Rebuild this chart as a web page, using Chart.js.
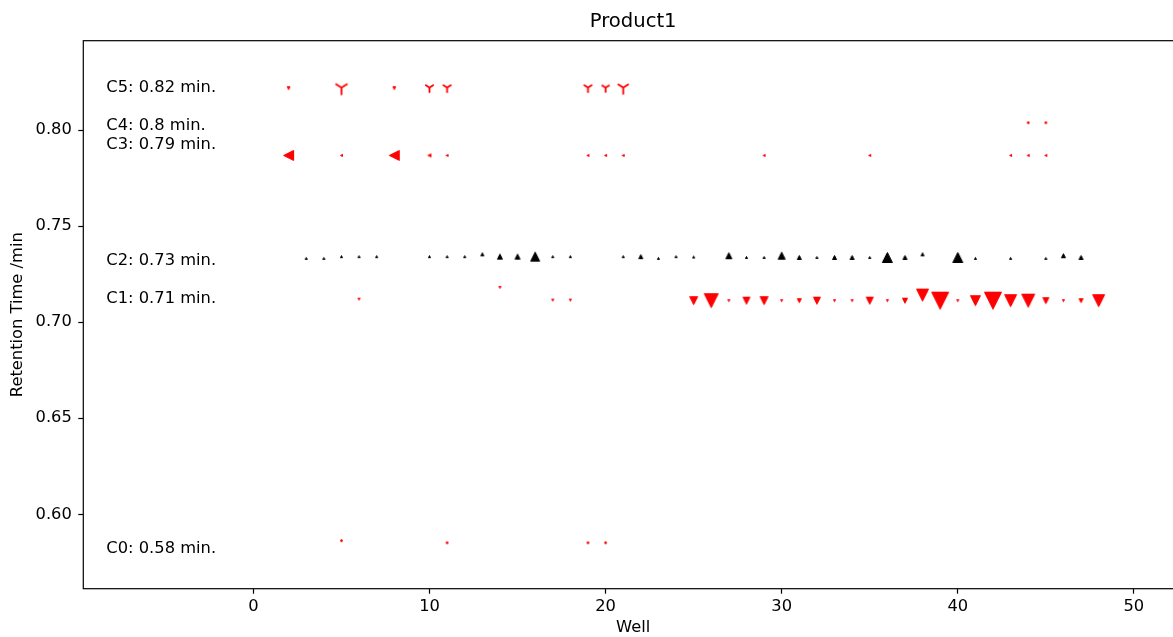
<!DOCTYPE html>
<html><head><meta charset="utf-8">
<script src="https://cdn.jsdelivr.net/npm/chart.js@4/dist/chart.umd.min.js"></script>
<style>html,body{margin:0;padding:0;background:#fff;overflow:hidden;}#wrap{width:1173px;height:637px;overflow:hidden;}canvas{display:block;}</style>
</head><body><div id="wrap"><canvas id="c" width="1186" height="637"></canvas></div>
<script>
// ---------- data ----------
const chartTitle = 'Product1';
const xAxisTitle = 'Well';
const yAxisTitle = 'Retention Time /min';
const xTickValues = [0, 10, 20, 30, 40, 50];
const yTickValues = [0.60, 0.65, 0.70, 0.75, 0.80];

const compoundNames = ['C0', 'C1', 'C2', 'C3', 'C4', 'C5'];
const compoundTimes = [0.58, 0.71, 0.73, 0.79, 0.8, 0.82];

// relative peak response (drives marker size)
const c0Wells = [5, 11, 19, 20];
const c0Times = [0.5863, 0.5852, 0.5852, 0.5852];
const c0Response = [0, 0, 0, 0];

const c1Wells = [6, 14, 17, 18, 25, 26, 27, 28, 29, 30, 31, 32, 33, 34, 35, 36, 37, 38, 39, 40, 41, 42, 43, 44, 45, 46, 47, 48];
const c1Times = [0.7120, 0.7181, 0.7115, 0.7115, 0.7112, 0.7112, 0.7112, 0.7112, 0.7112, 0.7112, 0.7112, 0.7112, 0.7112, 0.7112, 0.7112, 0.7112, 0.7112, 0.7141, 0.7112, 0.7112, 0.7112, 0.7112, 0.7112, 0.7112, 0.7112, 0.7112, 0.7112, 0.7112];
const c1Response = [0, 0, 0, 0, 6, 12, 0, 5, 6, 0, 2, 5, 0, 0, 5, 0, 3, 10, 15, 0, 8, 15, 10, 11, 4, 0, 2, 10];

const c2Wells = [3, 4, 5, 6, 7, 10, 11, 12, 13, 14, 15, 16, 17, 18, 21, 22, 23, 24, 25, 27, 28, 29, 30, 31, 32, 33, 34, 35, 36, 37, 38, 40, 41, 43, 45, 46, 47];
const c2Times = [0.7332, 0.7332, 0.7341, 0.7341, 0.7341, 0.7341, 0.7341, 0.7341, 0.7353, 0.7341, 0.7341, 0.7341, 0.7341, 0.7341, 0.7341, 0.7341, 0.7332, 0.7341, 0.7339, 0.7346, 0.7337, 0.7337, 0.7346, 0.7337, 0.7337, 0.7337, 0.7337, 0.7337, 0.7337, 0.7337, 0.7353, 0.7337, 0.7332, 0.7332, 0.7332, 0.7346, 0.7337];
const c2Response = [0, 0, 0, 0, 0, 0, 0, 0, 1, 3, 3, 7, 0, 0, 0, 2, 0, 0, 0, 4, 0, 0, 5, 2, 0, 2, 2, 0, 8, 2, 1, 8, 0, 0, 0, 2, 2];

const c3Wells = [2, 5, 8, 10, 11, 19, 20, 21, 29, 35, 43, 44, 45];
const c3Times = [0.7868, 0.7868, 0.7868, 0.7868, 0.7868, 0.7868, 0.7868, 0.7868, 0.7868, 0.7868, 0.7868, 0.7868, 0.7868];
const c3Response = [8, 0, 8, 1, 0, 0, 0, 0, 0, 0, 0, 0, 0];

const c4Wells = [44, 45];
const c4Times = [0.8038, 0.8038];
const c4Response = [0, 0];

const c5Wells = [2, 5, 8, 10, 11, 19, 20, 21];
const c5Times = [0.8221, 0.8221, 0.8221, 0.8221, 0.8221, 0.8221, 0.8221, 0.8221];
const c5Response = [0, 9, 0, 5.5, 5.5, 5.5, 5, 8];

// ---------- styling ----------
const RED = '#ff0000', BLACK = '#000000';
const FONT = 'DejaVu Sans';
const TXT = 16.3;
const seriesStyle = [
  { shape: 'dot', color: RED },
  { shape: 'down', color: RED },
  { shape: 'up', color: BLACK },
  { shape: 'left', color: RED },
  { shape: 'dot', color: RED },
  { shape: 'tri', color: RED }
];
const seriesWells = [c0Wells, c1Wells, c2Wells, c3Wells, c4Wells, c5Wells];
const seriesTimes = [c0Times, c1Times, c2Times, c3Times, c4Times, c5Times];
const seriesResp = [c0Response, c1Response, c2Response, c3Response, c4Response, c5Response];
const markerPx = r => 3 + r;

const markerCache = {};
function marker(shape, s, color) {
  const key = shape + '|' + s + '|' + color;
  if (markerCache[key]) return markerCache[key];
  const pad = 3;
  const n = Math.ceil(s) + 2 * pad;
  const cv = document.createElement('canvas');
  cv.width = n; cv.height = n;
  const g = cv.getContext('2d');
  const c = n / 2;
  g.fillStyle = color; g.strokeStyle = color;
  if (shape === 'tri') {
    const w = s;
    g.lineWidth = 1.8; g.lineCap = 'butt';
    g.beginPath();
    g.moveTo(c, c); g.lineTo(c, c + 0.625 * w);
    g.moveTo(c, c); g.lineTo(c + 0.5 * w, c - 0.3125 * w);
    g.moveTo(c, c); g.lineTo(c - 0.5 * w, c - 0.3125 * w);
    g.stroke();
  } else {
    const h = Math.max(0.6, s / 2 - 0.5);
    g.lineWidth = 1; g.lineJoin = 'miter';
    g.beginPath();
    if (shape === 'up') { g.moveTo(c, c - h); g.lineTo(c + h, c + h); g.lineTo(c - h, c + h); }
    else if (shape === 'down') { g.moveTo(c, c + h); g.lineTo(c + h, c - h); g.lineTo(c - h, c - h); }
    else if (shape === 'left') { g.moveTo(c - h, c); g.lineTo(c + h, c - h); g.lineTo(c + h, c + h); }
    else { g.arc(c, c, h, 0, Math.PI * 2); }
    g.closePath(); g.fill(); g.stroke();
  }
  markerCache[key] = cv;
  return cv;
}

const datasets = compoundNames.map((name, k) => {
  const st = seriesStyle[k];
  const resp = seriesResp[k];
  return {
    label: name,
    data: seriesWells[k].map((w, i) => ({ x: w, y: seriesTimes[k][i] })),
    pointStyle: ctx => marker(st.shape, markerPx(resp[ctx.dataIndex] || 0), st.color),
    pointRadius: ctx => markerPx(resp[ctx.dataIndex] || 0) / 2,
    backgroundColor: st.color,
    borderColor: st.color,
    showLine: false,
    clip: false
  };
});

const labelX = -8.35;
const labelPlugin = {
  id: 'compoundLabels',
  afterDatasetsDraw(chart) {
    const { ctx, scales: { x, y } } = chart;
    ctx.save();
    ctx.font = TXT + 'px "' + FONT + '"';
    ctx.fillStyle = '#000';
    ctx.textAlign = 'left';
    ctx.textBaseline = 'alphabetic';
    compoundNames.forEach((n, i) => {
      ctx.fillText(n + ': ' + compoundTimes[i] + ' min.', x.getPixelForValue(labelX), y.getPixelForValue(compoundTimes[i]));
    });
    ctx.restore();
  }
};
const framePlugin = {
  id: 'frame',
  afterDraw(chart) {
    const a = chart.chartArea, ctx = chart.ctx;
    ctx.save();
    ctx.strokeStyle = '#000'; ctx.lineWidth = 1.2;
    ctx.strokeRect(a.left, a.top, a.right - a.left, a.bottom - a.top);
    ctx.restore();
  }
};

new Chart(document.getElementById('c'), {
  type: 'scatter',
  data: { datasets },
  plugins: [labelPlugin, framePlugin],
  options: {
    responsive: false,
    animation: false,
    events: [],
    layout: { autoPadding: false, padding: { top: 0, right: 3, bottom: 0, left: 0 } },
    plugins: {
      legend: { display: false },
      tooltip: { enabled: false },
      title: {
        display: true, text: chartTitle, color: '#000', fullSize: false,
        font: { family: FONT, size: 19.6, weight: 'normal', lineHeight: 1.2 },
        padding: { top: 10.24, bottom: 6.94 }
      }
    },
    scales: {
      x: {
        type: 'linear', min: -9.66, max: 52.79,
        afterBuildTicks: s => { s.ticks = xTickValues.map(v => ({ value: v })); },
        afterFit: s => { s.height = 48.3; s.paddingLeft = 0; s.paddingRight = 0; },
        ticks: { color: '#000', font: { family: FONT, size: TXT }, padding: 3, maxRotation: 0, autoSkip: false, callback: v => String(v) },
        grid: { display: true, drawOnChartArea: false, drawTicks: true, tickLength: 5, tickWidth: 1.2, tickColor: '#000' },
        border: { display: false },
        title: { display: true, text: xAxisTitle, color: '#000', font: { family: FONT, size: TXT, lineHeight: 1 }, padding: { top: 0, bottom: 0.6 } }
      },
      y: {
        type: 'linear', min: 0.5613, max: 0.8465,
        afterBuildTicks: s => { s.ticks = yTickValues.map(v => ({ value: v })); },
        afterFit: s => { s.width = 83.3; s.paddingTop = 0; s.paddingBottom = 0; },
        ticks: { color: '#000', font: { family: FONT, size: TXT }, padding: 6.5, autoSkip: false, callback: v => Number(v).toFixed(2) },
        grid: { display: true, drawOnChartArea: false, drawTicks: true, tickLength: 5, tickWidth: 1.2, tickColor: '#000' },
        border: { display: false },
        title: { display: true, text: yAxisTitle, color: '#000', font: { family: FONT, size: TXT, lineHeight: 1 }, padding: { top: 9.85, bottom: 0 } }
      }
    }
  }
});
</script>
</body></html>
